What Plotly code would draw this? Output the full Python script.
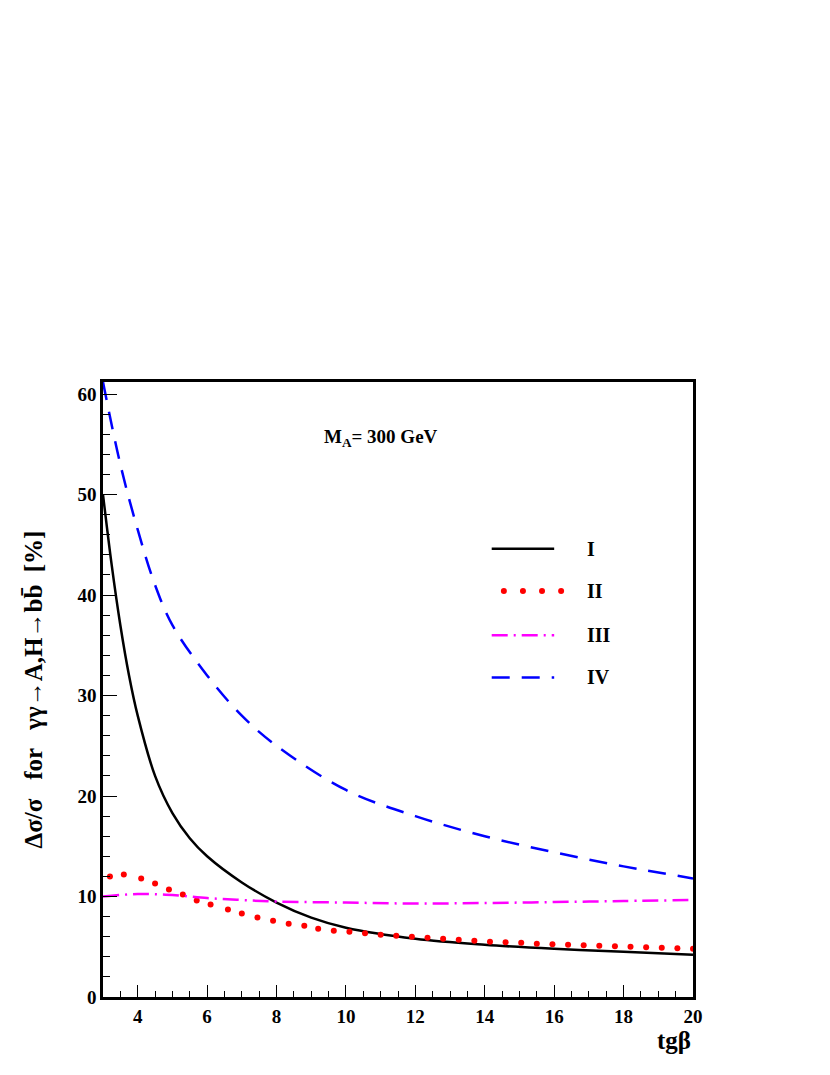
import plotly.graph_objects as go

x_I = [3, 3.25, 3.5, 3.75, 4, 4.5, 5, 5.5, 6, 7, 8, 9, 10, 12, 14, 16, 18, 20]
y_I = [50, 43, 37, 32, 28, 22, 18.3, 15.8, 14, 11.4, 9.4, 7.9, 6.9, 5.8, 5.2, 4.8, 4.5, 4.2]
x_II = [3.2, 3.6, 4.1, 4.5, 4.9, 5.3, 5.7, 6.1, 6.6, 7.0, 7.45, 7.9, 8.35, 8.8, 9.2, 9.65, 10.1,
        10.55, 11.0, 11.45, 11.9, 12.35, 12.8, 13.25, 13.7, 14.15, 14.6, 15.05, 15.5, 15.95,
        16.4, 16.85, 17.3, 17.75, 18.2, 18.65, 19.1, 19.55, 20.0]
y_II = [12.0, 12.2, 11.8, 11.3, 10.7, 10.2, 9.6, 9.2, 8.7, 8.3, 7.9, 7.6, 7.3, 7.1, 6.8, 6.6, 6.5,
        6.35, 6.2, 6.1, 6.0, 5.9, 5.8, 5.7, 5.6, 5.5, 5.45, 5.4, 5.3, 5.25, 5.2, 5.15, 5.1, 5.05,
        5.0, 4.95, 4.9, 4.85, 4.8]
x_III = [3, 4, 5, 6, 7, 8, 10, 12, 14, 16, 18, 20]
y_III = [10.0, 10.25, 10.15, 9.85, 9.65, 9.5, 9.4, 9.3, 9.35, 9.45, 9.55, 9.65]
x_IV = [3, 3.5, 4, 4.5, 5, 6, 7, 8, 10, 12, 14, 16, 18, 20]
y_IV = [61.2, 53, 46.5, 41, 37, 32, 28, 25, 20.6, 18, 16, 14.4, 13, 11.8]
labels = ["I", "II", "III", "IV"]
legend_y = [44.6, 40.4, 36.0, 31.8]

styles = [dict(color="black", width=2.5, dash="solid"),
          None,
          dict(color="magenta", width=2.5, dash="16px,6px,2px,6px"),
          dict(color="blue", width=2.5, dash="18px,12px")]

fig = go.Figure()
fig.add_trace(go.Scatter(x=x_I, y=y_I, mode="lines", line=dict(shape="spline", **styles[0]), showlegend=False))
fig.add_trace(go.Scatter(x=x_II, y=y_II, mode="markers", marker=dict(color="red", size=6), showlegend=False))
fig.add_trace(go.Scatter(x=x_III, y=y_III, mode="lines", line=dict(shape="spline", **styles[2]), showlegend=False))
fig.add_trace(go.Scatter(x=x_IV, y=y_IV, mode="lines", line=dict(shape="spline", **styles[3]), showlegend=False))

for i, (lab, ly) in enumerate(zip(labels, legend_y)):
    if i == 1:
        fig.add_trace(go.Scatter(x=[14.55, 15.1, 15.65, 16.2][:4], y=[ly] * 4, mode="markers",
                                 marker=dict(color="red", size=6), showlegend=False))
    else:
        fig.add_trace(go.Scatter(x=[14.2, 16.0], y=[ly, ly], mode="lines", line=styles[i], showlegend=False))
    fig.add_annotation(x=16.9, y=ly, text="<b>%s</b>" % lab, showarrow=False, xanchor="left",
                       font=dict(size=20))

fig.add_annotation(x=11, y=55.6, text="<b>M<sub>A</sub>= 300 GeV</b>", showarrow=False,
                   font=dict(size=19))
fig.add_annotation(xref="paper", yref="paper", x=1.0, y=-0.045, yanchor="top", xanchor="right",
                   text="<b>tgβ</b>", showarrow=False, font=dict(size=25))

axis_common = dict(showgrid=False, zeroline=False, showline=True, linecolor="black",
                   linewidth=2.5, mirror=True, ticks="inside", tickcolor="black",
                   tickfont=dict(size=19, family="Liberation Serif"))
fig.update_xaxes(range=[3, 20], tickvals=[4, 6, 8, 10, 12, 14, 16, 18, 20],
                 ticktext=["<b>%d</b>" % v for v in [4, 6, 8, 10, 12, 14, 16, 18, 20]],
                 ticklen=12, minor=dict(dtick=0.5, ticks="inside", ticklen=6, tickcolor="black"),
                 **axis_common)
fig.update_yaxes(range=[0, 61.2], tickvals=[0, 10, 20, 30, 40, 50, 60],
                 ticktext=["<b>%d</b>" % v for v in [0, 10, 20, 30, 40, 50, 60]],
                 ticklen=14, minor=dict(dtick=2, ticks="inside", ticklen=7, tickcolor="black"),
                 title=dict(text="<b>Δσ/σ   for   γγ→A,H→bb̄  [%]</b>", font=dict(size=25), standoff=28),
                 **axis_common)
fig.update_layout(width=830, height=1075, margin=dict(l=95, r=145, t=374, b=86),
                  paper_bgcolor="white", plot_bgcolor="white",
                  font=dict(family="Liberation Serif", color="black"))
fig.write_html("out.html")
